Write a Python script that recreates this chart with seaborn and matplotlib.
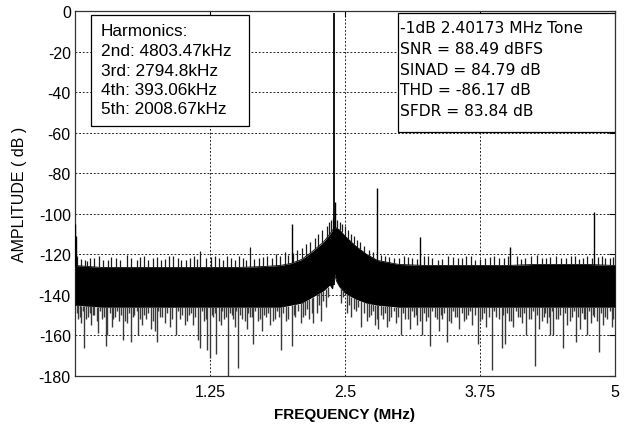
import numpy as np
import pandas as pd
import matplotlib
matplotlib.use("Agg")
import matplotlib.pyplot as plt
import seaborn as sns
from matplotlib.patches import Rectangle

# ---------------- data ----------------
freq_env = [0.0, 0.25, 0.5, 0.75, 1.0, 1.25, 1.5, 1.75, 1.9, 2.0, 2.1, 2.2, 2.3,
            2.36, 2.385, 2.40, 2.42, 2.45, 2.5, 2.6, 2.7, 2.8, 3.0, 3.25, 3.5,
            3.75, 4.0, 4.25, 4.5, 4.75, 5.0]
upper_dense = [-125.5, -126.5, -126.5, -126.5, -126.5, -126.5, -126.5, -126, -125.5, -124.5, -122.5, -118.5, -114,
               -110, -108, -107, -107, -108, -111, -116, -120, -123, -125, -125.5, -125.5,
               -125.5, -125.5, -125, -125, -125, -125.5]
lower_dense = [-145, -146, -146, -146, -146, -146, -146, -146, -146, -145, -144, -141, -138,
               -135, -137, -129, -133, -136, -139, -142, -144, -145, -146, -146, -146,
               -146, -146, -146, -146, -146, -146]

up_spike_f = [0.02, 0.055, 0.09, 0.115, 0.14, 0.175, 0.22, 0.26, 0.31, 0.335, 0.38, 0.42,
              0.48, 0.52, 0.57, 0.60, 0.64, 0.68, 0.72, 0.76, 0.80, 0.835, 0.87, 0.91,
              0.95, 0.985, 1.03, 1.065, 1.10, 1.13, 1.157, 1.21, 1.26, 1.30, 1.335, 1.37,
              1.405, 1.44, 1.48, 1.52, 1.555, 1.58, 1.62, 1.66, 1.70, 1.74, 1.78, 1.82,
              1.86, 1.90, 1.94, 1.97, 2.02, 2.06, 2.10, 2.14, 2.18, 2.22, 2.25, 2.29,
              2.33, 2.35, 2.37, 2.39, 2.43, 2.45, 2.47, 2.50, 2.53, 2.56, 2.58, 2.61,
              2.64, 2.68, 2.72, 2.76, 2.83, 2.87, 2.91, 2.95, 3.00, 3.05, 3.085, 3.12,
              3.165, 3.23, 3.27, 3.31, 3.36, 3.40, 3.45, 3.50, 3.55, 3.585, 3.62, 3.665,
              3.70, 3.75, 3.80, 3.84, 3.88, 3.925, 3.97, 4.01, 4.09, 4.13, 4.17, 4.22,
              4.28, 4.32, 4.36, 4.40, 4.45, 4.50, 4.55, 4.59, 4.63, 4.67, 4.70, 4.74,
              4.79, 4.84, 4.88, 4.91, 4.95, 4.98]
up_spike_db = [-121, -122.5, -123, -123.5, -122, -122, -121, -123, -123, -121.5, -122, -123,
               -120.5, -122, -123, -121.5, -121, -123, -122, -121.5, -123, -122.5, -121, -121,
               -122, -123, -123, -122, -121, -122.5, -118.5, -122, -121.5, -121, -122, -123,
               -121, -122, -123, -121, -122, -123, -116.5, -122.5, -122, -121.5, -121, -122,
               -120, -121, -119, -120.5, -119.5, -118, -117, -115, -114, -112, -110, -108,
               -106, -104, -103, -102, -103, -104, -105, -106, -108, -110, -111, -113,
               -114, -116, -118, -119, -120.5, -121, -121.5, -122, -122, -121, -121.5, -122,
               -122.5, -121, -121, -122, -123, -122.5, -121, -121.5, -122, -122, -121, -121,
               -123, -122.5, -122, -121.5, -121, -122, -122, -121, -121, -122.5, -122, -121,
               -120.5, -122, -122, -121.5, -121, -122, -122, -121, -121, -122.5, -122, -121,
               -122, -121.5, -121, -122, -122, -121.5]

down_spike_f = [0.015, 0.03, 0.045, 0.06, 0.075, 0.086, 0.105, 0.12, 0.135, 0.15, 0.165, 0.18,
                0.2, 0.216, 0.235, 0.25, 0.27, 0.287, 0.30, 0.32, 0.34, 0.355, 0.37, 0.39,
                0.41, 0.43, 0.447, 0.465, 0.48, 0.5, 0.515, 0.535, 0.55, 0.57, 0.586, 0.605,
                0.62, 0.64, 0.66, 0.68, 0.70, 0.72, 0.741, 0.756, 0.77, 0.79, 0.81, 0.83,
                0.85, 0.88, 0.9, 0.935, 0.95, 0.97, 0.99, 1.019, 1.04, 1.06, 1.075, 1.09,
                1.115, 1.142, 1.16, 1.175, 1.19, 1.21, 1.225, 1.25, 1.265, 1.28, 1.295, 1.31,
                1.33, 1.35, 1.365, 1.38, 1.4, 1.414, 1.435, 1.45, 1.465, 1.48, 1.495, 1.51,
                1.53, 1.55, 1.57, 1.59, 1.605, 1.62, 1.635, 1.65, 1.67, 1.69, 1.71, 1.73,
                1.75, 1.77, 1.79, 1.81, 1.83, 1.85, 1.87, 1.89, 1.91, 1.93, 1.95, 1.975,
                2.006, 2.025, 2.04, 2.065, 2.09, 2.11, 2.13, 2.15, 2.17, 2.19, 2.20, 2.24,
                2.26, 2.28, 2.30, 2.32, 2.34, 2.46, 2.48, 2.52, 2.54, 2.56, 2.58, 2.60,
                2.62, 2.65, 2.675, 2.70, 2.72, 2.74, 2.76, 2.78, 2.795, 2.81, 2.83, 2.85,
                2.87, 2.89, 2.91, 2.93, 2.95, 2.97, 2.99, 3.02, 3.04, 3.06, 3.08, 3.10,
                3.12, 3.14, 3.155, 3.17, 3.19, 3.21, 3.23, 3.25, 3.27, 3.29, 3.31, 3.33,
                3.35, 3.37, 3.385, 3.40, 3.42, 3.44, 3.46, 3.48, 3.50, 3.52, 3.54, 3.56,
                3.58, 3.60, 3.62, 3.64, 3.66, 3.68, 3.70, 3.73, 3.75, 3.77, 3.79, 3.81,
                3.835, 3.86, 3.88, 3.90, 3.925, 3.95, 3.965, 3.98, 4.0, 4.02, 4.04, 4.06,
                4.08, 4.10, 4.12, 4.14, 4.16, 4.18, 4.2, 4.22, 4.24, 4.26, 4.28, 4.30,
                4.32, 4.34, 4.355, 4.37, 4.385, 4.40, 4.415, 4.43, 4.45, 4.47, 4.495, 4.52,
                4.54, 4.56, 4.58, 4.60, 4.62, 4.64, 4.66, 4.68, 4.695, 4.71, 4.725, 4.74,
                4.76, 4.78, 4.795, 4.81, 4.83, 4.85, 4.87, 4.89, 4.91, 4.93, 4.95, 4.97,
                4.985]
down_spike_db = [-149, -152, -151, -154, -148, -166, -152, -151, -149, -155, -150, -150,
                 -153, -159, -148, -152, -151, -165, -160, -149, -156, -152, -151, -148,
                 -153, -150, -162, -153, -154, -149, -163, -151, -150, -148, -160, -152,
                 -155, -150, -152, -149, -157, -153, -158, -163, -148, -151, -151, -154,
                 -149, -156, -152, -160, -148, -152, -150, -155, -153, -150, -149, -155,
                 -151, -162, -166, -148, -153, -152, -167, -171, -150, -151, -149, -169,
                 -153, -155, -148, -152, -151, -180, -149, -150, -152, -156, -148, -176,
                 -150, -152, -153, -157, -149, -151, -151, -164, -148, -153, -152, -158,
                 -150, -151, -149, -155, -153, -152, -148, -151, -167, -149, -153, -152,
                 -165, -150, -151, -148, -154, -151, -150, -147, -152, -149, -154, -149,
                 -145, -153, -143, -146, -141, -144, -141, -149, -145, -151, -147, -148,
                 -146, -156, -149, -153, -151, -150, -148, -155, -152, -157, -150, -152,
                 -149, -156, -153, -151, -148, -154, -151, -160, -149, -152, -152, -157,
                 -148, -151, -150, -155, -153, -160, -149, -153, -151, -165, -148, -151,
                 -152, -158, -150, -152, -149, -163, -153, -154, -148, -151, -151, -157,
                 -149, -153, -152, -150, -148, -155, -150, -164, -153, -152, -149, -156,
                 -151, -177, -148, -151, -152, -166, -150, -164, -149, -153, -153, -156,
                 -148, -151, -151, -154, -149, -160, -152, -152, -148, -175, -150, -157,
                 -153, -151, -149, -154, -151, -160, -148, -160, -152, -152, -150, -166,
                 -149, -155, -153, -151, -148, -163, -151, -157, -149, -152, -152, -160,
                 -148, -154, -150, -151, -153, -168, -149, -155, -151, -152, -148, -156,
                 -152]

spur_f = [0.004, 0.012, 2.00867, 2.41, 2.7948, 3.19, 4.03, 4.80347]
spur_db = [-105, -111, -105, -94, -87.5, -111.6, -116.5, -99]
tone_f = 2.40173
tone_db = -1.0

harmonic_lines = ["Harmonics:", "2nd: 4803.47kHz", "3rd: 2794.8kHz",
                  "4th: 393.06kHz", "5th: 2008.67kHz"]
stat_lines = ["-1dB 2.40173 MHz Tone", "SNR = 88.49 dBFS", "SINAD = 84.79 dB",
              "THD = -86.17 dB", "SFDR = 83.84 dB"]

xticks = [1.25, 2.5, 3.75, 5]
xticklabels = ["1.25", "2.5", "3.75", "5"]
yticks = [0, -20, -40, -60, -80, -100, -120, -140, -160, -180]

# ---------------- figure ----------------
sns.set_theme(style="white")
plt.rcParams["font.family"] = ["Liberation Sans", "DejaVu Sans"]
plt.rcParams["axes.unicode_minus"] = False

W, H = 624, 427
fig = plt.figure(figsize=(W / 100, H / 100), dpi=100)
L, R, T, B = 75, 615, 12, 377
ax = fig.add_axes([L / W, (H - B) / H, (R - L) / W, (B - T) / H])

def fx(px):
    return (px - L) / (R - L)

def fy(py):
    return (B - py) / (B - T)

env = pd.DataFrame({"freq": freq_env, "upper": upper_dense, "lower": lower_dense})

# dense noise band
ax.fill_between(env["freq"], env["lower"], env["upper"], color="black", lw=0, zorder=3)
sns.lineplot(data=env, x="freq", y="upper", ax=ax, color="black", lw=0.6, zorder=3)
sns.lineplot(data=env, x="freq", y="lower", ax=ax, color="black", lw=0.6, zorder=3)

# spikes above / below the dense band
up_base = np.interp(up_spike_f, freq_env, upper_dense)
ax.vlines(up_spike_f, up_base, up_spike_db, color="#1a1a1a", lw=0.9, zorder=3)
dn_base = np.interp(down_spike_f, freq_env, lower_dense)
ax.vlines(down_spike_f, dn_base, down_spike_db, color="#3a3a3a", lw=1.0, zorder=3)

# spurs and tone
sp_base = np.interp(spur_f, freq_env, upper_dense)
ax.vlines(spur_f, sp_base, spur_db, color="black", lw=1.0, zorder=4)
ax.vlines([tone_f], [-135], [tone_db], color="black", lw=1.3, zorder=4)

# axes setup
ax.set_xlim(0, 5)
ax.set_ylim(-180, 0)
ax.set_xticks(xticks)
ax.set_xticklabels(xticklabels)
ax.set_yticks(yticks)
ax.grid(True, color="black", linestyle=(0, (2.2, 2.2)), lw=0.6, zorder=1)
ax.set_axisbelow(True)
ax.tick_params(axis="both", direction="in", length=4, width=0.8, color="black",
               labelsize=11.5, labelcolor="black", top=True, right=True)
ax.tick_params(axis="x", pad=6)
ax.tick_params(axis="y", pad=3)
for s in ax.spines.values():
    s.set_color("#333333")
    s.set_linewidth(0.9)
ax.set_facecolor("white")

ax.set_xlabel("FREQUENCY (MHz)", fontsize=11, fontweight="bold", color="black")
ax.set_ylabel("AMPLITUDE ( dB )", fontsize=11.5, color="black")
ax.xaxis.set_label_coords(0.5, fy(415))
ax.xaxis.label.set_va("center")
ax.yaxis.set_label_coords(fx(20), 0.5)
ax.yaxis.label.set_va("center")

# text boxes
ax.add_patch(Rectangle((fx(91), fy(127)), fx(249) - fx(91), fy(16) - fy(127),
                       transform=ax.transAxes, facecolor="white", edgecolor="black",
                       lw=0.9, zorder=5))
for i, t in enumerate(harmonic_lines):
    ax.text(fx(101), fy(32 + 19.5 * i), t, transform=ax.transAxes, fontsize=12.4,
            va="center", ha="left", color="black", zorder=6)

ax.add_patch(Rectangle((fx(397.5), fy(133)), fx(615) - fx(397.5), fy(14) - fy(133),
                       transform=ax.transAxes, facecolor="white", edgecolor="black",
                       lw=0.9, zorder=5))
for i, t in enumerate(stat_lines):
    ax.text(fx(399.5), fy(28.5 + 20.8 * i), t, transform=ax.transAxes, fontsize=11.2,
            va="center", ha="left", color="black", family=["DejaVu Sans"], zorder=6)

fig.savefig("out.png", dpi=100)
